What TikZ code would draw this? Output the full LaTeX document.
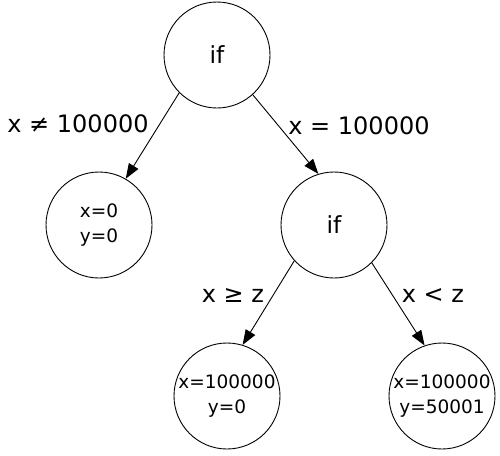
\documentclass[tikz,border=0pt]{standalone}
\usepackage{fontspec}
\setmainfont{DejaVu Sans}
\usetikzlibrary{arrows.meta}

\begin{document}
\begin{tikzpicture}[x=1pt,y=-1pt,
    state/.style={draw,circle,minimum size=106pt,inner sep=0pt,line width=0.9pt,
      align=center,font=\fontsize{18.5}{25}\selectfont},
    cond/.style={font=\fontsize{24}{28}\selectfont},
    edge/.style={line width=0.9pt,-{Triangle[length=15pt,width=11pt]}}]
    \useasboundingbox (0,0) rectangle (500,455);
    %
    \node[state,font=\fontsize{23.5}{28}\selectfont] (if1) at (217,55) {if};
    \node[state] (leaf0) at (99,225) {x=0\\y=0};
    \node[state,font=\fontsize{23.5}{28}\selectfont] (if2) at (334,225) {if};
    \node[state] (leaf1) at (227,396) {x=100000\\y=0};
    \node[state] (leaf2) at (442,396) {x=100000\\y=50001};
    %
    \draw[edge] (if1.225) -- (leaf0.60);
    \draw[edge] (if1.312) -- (if2.107);
    \draw[edge] (if2.222) -- (leaf1.73);
    \draw[edge] (if2.315) -- (leaf2.109);
    %
    \node[cond] (c1) at (78,124) {x ≠ 100000};
    \node[cond] (c2) at (359,126) {x = 100000};
    \node[cond] (c3) at (233,296) {x ≥ z};
    \node[cond] (c4) at (433,296) {x < z};
\end{tikzpicture}
\end{document}
